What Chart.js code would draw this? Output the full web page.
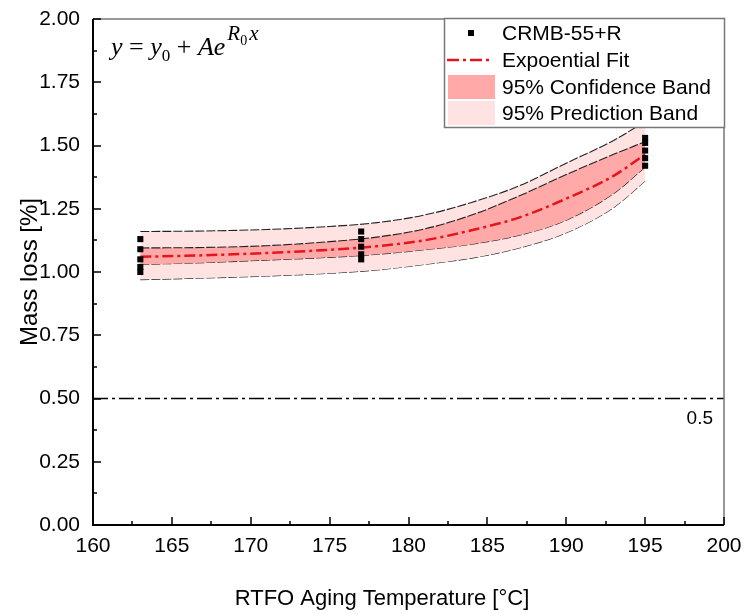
<!DOCTYPE html>
<html>
<head>
<meta charset="utf-8">
<script src="https://cdn.jsdelivr.net/npm/chart.js@4.4.1/dist/chart.umd.min.js"></script>
<style>
  html, body { margin: 0; padding: 0; background: #fff; }
  #wrap { width: 744px; height: 614px; }
</style>
</head>
<body>
<div id="wrap"><canvas id="c"></canvas></div>
<script>
// measured samples (CRMB-55+R)
const sampleTemp = [163, 163, 163, 163, 163, 177, 177, 177, 177, 177, 195, 195, 195, 195, 195];
const sampleLoss = [1.00, 1.02, 1.05, 1.09, 1.13, 1.05, 1.07, 1.10, 1.13, 1.16, 1.42, 1.45, 1.48, 1.51, 1.53];

// fit + bands
const bandTemp   = [163, 167, 171, 175, 178, 181, 184, 187, 190, 193, 195];
const fitLoss    = [1.060, 1.066, 1.075, 1.088, 1.102, 1.125, 1.165, 1.215, 1.290, 1.380, 1.465];
const confUpper  = [1.095, 1.097, 1.104, 1.120, 1.138, 1.170, 1.225, 1.300, 1.385, 1.465, 1.515];
const confLower  = [1.030, 1.037, 1.047, 1.058, 1.070, 1.088, 1.110, 1.145, 1.205, 1.310, 1.415];
const predUpper  = [1.160, 1.162, 1.168, 1.180, 1.195, 1.225, 1.275, 1.340, 1.430, 1.520, 1.595];
const predLower  = [0.970, 0.976, 0.984, 0.995, 1.008, 1.030, 1.055, 1.095, 1.155, 1.255, 1.360];

const limitTemp = [160, 200];
const limitLoss = [0.5, 0.5];

const xTicks = [160, 165, 170, 175, 180, 185, 190, 195, 200];
const yTicks = [0, 0.25, 0.5, 0.75, 1.0, 1.25, 1.5, 1.75, 2.0];

const legendLabels = ['CRMB-55+R', 'Expoential Fit', '95% Confidence Band', '95% Prediction Band'];
const xTitle = 'RTFO Aging Temperature [°C]';

const PRED_FILL = '#FFE2E2';
const CONF_FILL = '#FFA9A9';
const FIT_RED = '#E8141C';
const SANS = '"Liberation Sans", Arial, sans-serif';

const pts = (xs, ys) => xs.map((v, i) => ({x: v, y: ys[i]}));

function edge(data, fill, bg) {
  return {
    data: data, fill: fill, backgroundColor: bg || 'transparent',
    borderColor: '#222', borderWidth: 1.1, borderDash: [9, 2],
    pointRadius: 0, cubicInterpolationMode: 'monotone'
  };
}

const framePlugin = {
  id: 'frame',
  afterDatasetsDraw(chart) {
    const {ctx, chartArea: a, scales: {x, y}} = chart;
    ctx.save();
    ctx.strokeStyle = '#777';
    ctx.lineWidth = 1.5;
    ctx.beginPath();
    ctx.moveTo(a.left, a.top); ctx.lineTo(a.right, a.top); ctx.lineTo(a.right, a.bottom);
    ctx.stroke();
    ctx.strokeStyle = '#000';
    ctx.lineWidth = 2;
    ctx.beginPath();
    ctx.moveTo(a.left, a.top); ctx.lineTo(a.left, a.bottom); ctx.lineTo(a.right, a.bottom);
    ctx.stroke();
    // inward ticks, major + minor
    ctx.lineWidth = 1.5;
    ctx.beginPath();
    for (let v = 160; v <= 200; v += 2.5) {
      const px = Math.round(x.getPixelForValue(v));
      const len = v % 5 === 0 ? 8 : 4;
      ctx.moveTo(px, a.bottom); ctx.lineTo(px, a.bottom - len);
    }
    for (let v = 0; v <= 2.0001; v += 0.125) {
      const py = Math.round(y.getPixelForValue(v));
      const len = Math.round(v * 1000) % 250 === 0 ? 8 : 4;
      ctx.moveTo(a.left, py); ctx.lineTo(a.left + len, py);
    }
    ctx.stroke();

    // "0.5" label under the limit line
    ctx.fillStyle = '#000';
    ctx.font = '19px ' + SANS;
    ctx.textAlign = 'right';
    ctx.textBaseline = 'middle';
    ctx.fillText('0.5', a.right - 11, y.getPixelForValue(0.5) + 20);

    // x axis title (sits left of the plot centre in the original)
    ctx.textAlign = 'center';
    ctx.font = '22px ' + SANS;
    ctx.fillText(xTitle, 382, 599);
    ctx.restore();
  },
  afterDraw(chart) {
    const {ctx} = chart;
    ctx.save();
    // equation
    const serif = '"Liberation Serif", "Times New Roman", serif';
    const it = 'italic 26px ' + serif;
    const up = '26px ' + serif;
    const sub = '17px ' + serif;
    const supIt = 'italic 21px ' + serif;
    const supSub = '14px ' + serif;
    const base = 55;
    let cx = 111;
    ctx.fillStyle = '#000';
    ctx.textBaseline = 'alphabetic';
    ctx.textAlign = 'left';
    const put = (t, f, dy, gap) => { ctx.font = f; ctx.fillText(t, cx, base + (dy || 0)); cx += ctx.measureText(t).width + (gap || 0); };
    put('y', it);
    put(' = ', up);
    put('y', it);
    put('0', sub, 6);
    put(' + ', up);
    put('A', it);
    put('e', it, 0, 2);
    put('R', supIt, -15);
    put('0', supSub, -10, 2);
    put('x', supIt, -15);

    // legend box
    const L = 444.5, T = 18.5, W = 280, H = 109;
    ctx.fillStyle = '#fff';
    ctx.fillRect(L, T, W, H);
    ctx.strokeStyle = '#777';
    ctx.lineWidth = 1.5;
    ctx.strokeRect(L, T, W, H);
    const rows = [33, 60, 87, 113];
    ctx.fillStyle = '#000';
    ctx.fillRect(468, rows[0] - 3, 6, 6);
    ctx.strokeStyle = FIT_RED;
    ctx.lineWidth = 2.5;
    ctx.setLineDash([12, 4, 3, 4]);
    ctx.beginPath(); ctx.moveTo(447, rows[1]); ctx.lineTo(493, rows[1]); ctx.stroke();
    ctx.setLineDash([]);
    ctx.fillStyle = CONF_FILL;
    ctx.fillRect(448, 75, 47, 24);
    ctx.fillStyle = PRED_FILL;
    ctx.fillRect(448, 101, 47, 24);
    ctx.fillStyle = '#000';
    ctx.font = '21px ' + SANS;
    ctx.textBaseline = 'middle';
    legendLabels.forEach((t, i) => ctx.fillText(t, 502, rows[i] + 1));
    ctx.restore();
  }
};

new Chart(document.getElementById('c'), {
  type: 'line',
  data: {
    datasets: [
      { data: pts(sampleTemp, sampleLoss), showLine: false, pointStyle: 'rect',
        pointRadius: 4.3, pointBackgroundColor: '#000', pointBorderWidth: 0, borderColor: '#000' },
      { data: pts(bandTemp, fitLoss), borderColor: FIT_RED, borderWidth: 2.5,
        borderDash: [11, 4, 3, 4], pointRadius: 0, fill: false, cubicInterpolationMode: 'monotone' },
      edge(pts(bandTemp, confUpper), '+1', CONF_FILL),
      edge(pts(bandTemp, confLower), false),
      edge(pts(bandTemp, predUpper), '+1', PRED_FILL),
      edge(pts(bandTemp, predLower), false),
      { data: pts(limitTemp, limitLoss), borderColor: '#000', borderWidth: 1.5,
        borderDash: [15, 4, 3, 4], pointRadius: 0, fill: false }
    ]
  },
  options: {
    responsive: true,
    maintainAspectRatio: false,
    animation: false,
    layout: { padding: { top: 19, right: 20, left: 0, bottom: 0 } },
    plugins: { legend: { display: false }, tooltip: { enabled: false } },
    scales: {
      x: {
        type: 'linear', min: 160, max: 200,
        afterBuildTicks: s => { s.ticks = xTicks.map(v => ({value: v})); },
        afterFit: s => { s.height = 89; s.paddingLeft = 0; s.paddingRight = 0; },
        grid: { display: false, drawTicks: false },
        border: { display: false },
        ticks: { color: '#000', font: { family: SANS, size: 21 }, padding: 9, maxRotation: 0 },
        title: { display: false }
      },
      y: {
        min: 0, max: 2,
        afterBuildTicks: s => { s.ticks = yTicks.map(v => ({value: v})); },
        afterFit: s => { s.width = 93; s.paddingTop = 0; s.paddingBottom = 0; },
        grid: { display: false, drawTicks: false },
        border: { display: false },
        ticks: { color: '#000', font: { family: SANS, size: 21 }, padding: 13,
                 callback: v => v.toFixed(2) },
        title: { display: true, text: 'Mass loss [%]', color: '#000',
                 font: { family: SANS, size: 24 }, padding: { top: 16, bottom: 0 } }
      }
    }
  },
  plugins: [framePlugin]
});
</script>
</body>
</html>
